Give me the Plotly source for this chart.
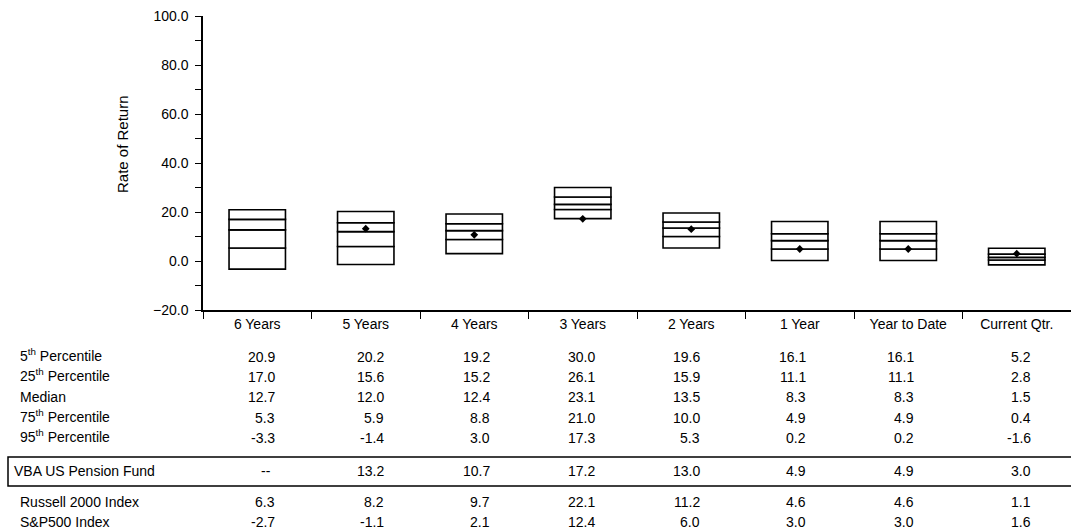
import plotly.graph_objects as go

categories = ["6 Years", "5 Years", "4 Years", "3 Years", "2 Years", "1 Year", "Year to Date", "Current Qtr."]
p5 = [20.9, 20.2, 19.2, 30.0, 19.6, 16.1, 16.1, 5.2]
p25 = [17.0, 15.6, 15.2, 26.1, 15.9, 11.1, 11.1, 2.8]
median = [12.7, 12.0, 12.4, 23.1, 13.5, 8.3, 8.3, 1.5]
p75 = [5.3, 5.9, 8.8, 21.0, 10.0, 4.9, 4.9, 0.4]
p95 = [-3.3, -1.4, 3.0, 17.3, 5.3, 0.2, 0.2, -1.6]
fund = [None, 13.2, 10.7, 17.2, 13.0, 4.9, 4.9, 3.0]
russell = [6.3, 8.2, 9.7, 22.1, 11.2, 4.6, 4.6, 1.1]
sp500 = [-2.7, -1.1, 2.1, 12.4, 6.0, 3.0, 3.0, 1.6]

row_labels = ["5<sup>th</sup> Percentile", "25<sup>th</sup> Percentile", "Median",
              "75<sup>th</sup> Percentile", "95<sup>th</sup> Percentile",
              "VBA US Pension Fund", "Russell 2000 Index", "S&P500 Index"]
fund_name = "VBA US Pension Fund"
y_title = "Rate of Return"

FONT = "Liberation Sans, Arial, sans-serif"
W, H = 1071, 531
L, R, T, B = 203, 0, 16, 221
plot_h = H - T - B
plot_w = W - L - R


def py(ypx):
    return (H - B - ypx) / plot_h


def px(xpx):
    return (xpx - L) / plot_w


fig = go.Figure()

segments = [(p95, p75), (p75, median), (median, p25), (p25, p5)]
for lo, hi in segments:
    fig.add_trace(go.Bar(
        x=categories, base=lo, y=[h - l for l, h in zip(lo, hi)],
        width=0.52, marker=dict(color="white", line=dict(color="black", width=1.6)),
        showlegend=False, hoverinfo="skip"))

fig.add_trace(go.Scatter(
    x=categories, y=fund, mode="markers",
    marker=dict(symbol="diamond", size=6, color="black"),
    showlegend=False, name=fund_name))

# table
row_y = [357, 377, 397, 418, 438, 471, 502, 522]
rows = [p5, p25, median, p75, p95, fund, russell, sp500]
col_shift = [20, 20, 18, 14, 11, 8, 8, 16]
ann = [dict(text=y_title, xref="paper", yref="paper", x=px(122), y=py(144),
            xanchor="center", yanchor="middle", textangle=-90, showarrow=False,
            font=dict(family=FONT, size=15, color="black"))]
for i, lab in enumerate(row_labels):
    ann.append(dict(text=lab, xref="paper", yref="paper",
                    x=px(12 if i == 5 else 18), y=py(row_y[i]),
                    xanchor="left", yanchor="middle", showarrow=False,
                    yshift=2 if "<sup>" in lab else 0,
                    font=dict(family=FONT, size=14, color="black")))
    for j, c in enumerate(categories):
        v = rows[i][j]
        txt = "--" if v is None else f"{v:.1f}"
        ann.append(dict(text=txt, xref="x", yref="paper", x=c, y=py(row_y[i]),
                        xanchor="right", yanchor="middle", xshift=col_shift[j] - (4 if v is None else 0),
                        showarrow=False, font=dict(family=FONT, size=14, color="black")))

fig.add_shape(type="rect", xref="paper", yref="paper",
              x0=px(8), x1=1.01, y0=py(457), y1=py(486),
              line=dict(color="black", width=1.5), fillcolor="rgba(0,0,0,0)")

fig.update_layout(
    width=W, height=H,
    margin=dict(l=L, r=R, t=T, b=B, pad=0),
    paper_bgcolor="white", plot_bgcolor="white",
    barmode="overlay",
    annotations=ann,
    font=dict(family=FONT, size=14, color="black"),
    xaxis=dict(type="category", tickson="boundaries", ticks="outside", ticklen=7,
               tickcolor="black", tickwidth=1.2, showline=True, linecolor="black",
               linewidth=1.5, showgrid=False, zeroline=False,
               tickfont=dict(family=FONT, size=14, color="black"),
               range=[-0.5, 7.5]),
    yaxis=dict(range=[-20, 100], dtick=20, tick0=0, tickformat=".1f",
               ticks="outside", ticklen=6, tickcolor="black", tickwidth=1.2,
               ticklabelstandoff=4,
               minor=dict(dtick=10, ticks="outside", ticklen=6, tickcolor="black", tickwidth=1.2, showgrid=False),
               showline=True, linecolor="black", linewidth=1.5,
               showgrid=False, zeroline=False,
               tickfont=dict(family=FONT, size=14, color="black")),
)

fig.write_html("out.html", config={"displayModeBar": False},
               post_script="document.body.style.margin='0';document.documentElement.style.overflow='hidden';")
